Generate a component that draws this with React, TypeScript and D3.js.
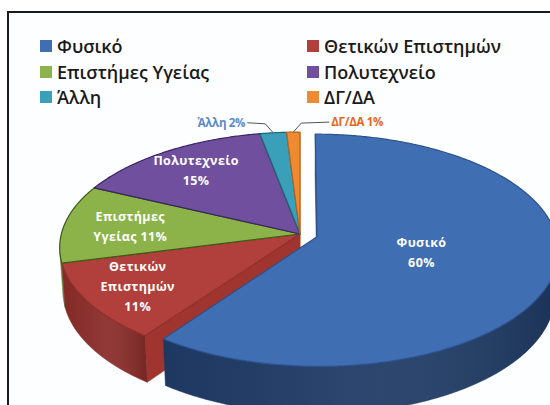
import React from "react";
import * as d3 from "d3";

// ---------- data ----------
const categories = ["Φυσικό", "Θετικών Επιστημών", "Επιστήμες Υγείας", "Πολυτεχνείο", "Άλλη", "ΔΓ/ΔΑ"];
const values = [60, 11, 11, 15, 2, 1];
const sliceLabels = [
  ["Φυσικό", "60%"],
  ["Θετικών", "Επιστημών", "11%"],
  ["Επιστήμες", "Υγείας 11%"],
  ["Πολυτεχνείο", "15%"],
  ["Άλλη 2%"],
  ["ΔΓ/ΔΑ 1%"],
];

// ---------- style ----------
const topColors = ["#3f6eb2", "#b13f3b", "#8cb34a", "#6f4f9e", "#3a9fb9", "#ee8a32"];
const wallColors = ["#1f3b66", "#8a2c29", "#5e7f2b", "#4a3470", "#1f6f84", "#b7621b"];
const radialColors = ["#2b4f86", "#a0342f", "#6f9334", "#553c80", "#24798f", "#c96f22"];
const edgeColors = ["#2c5290", "#8f2f2b", "#3d5a17", "#3b2760", "#1e6477", "#b7621b"];
const outsideColors = ["", "", "", "", "#5b89c9", "#e8661a"];
const explode = [0.075, 0, 0, 0, 0, 0];
const labelRadius = [0.45, 0.78, 0.72, 0.76, 1, 1];

const W = 550, H = 405;
const CX = 300, CY = 234, DIST = 7.5, TILT = (28.5 * Math.PI) / 180, FOC = 1790, THICK = 0.21;
const cosA = Math.cos(TILT), sinA = Math.sin(TILT);
const CAM = [0, -DIST * cosA, DIST * sinA];

function project(u: number, v: number, y: number): [number, number] {
  const z = DIST + v * cosA - y * sinA;
  const yc = v * sinA + y * cosA;
  return [CX + (FOC * u) / z, CY - (FOC * yc) / z];
}
function depth(u: number, v: number, y: number) {
  return DIST + v * cosA - y * sinA;
}

const pie = d3.pie<number>().sort(null).value((d) => d);
const arcs = pie(values);
const line = d3.line().curve(d3.curveLinearClosed);

type Face = { d: string; fill: string; z: number; key: string; stroke?: string };

function buildFaces() {
  const radial: Face[] = [];
  const walls: Face[] = [];
  const tops: Face[] = [];
  arcs.forEach((a, i) => {
    const mid = (a.startAngle + a.endAngle) / 2;
    const ou = explode[i] * Math.sin(mid);
    const ov = explode[i] * Math.cos(mid);
    const pt = (th: number, r: number, y: number) =>
      project(ou + r * Math.sin(th), ov + r * Math.cos(th), y);
    const n = Math.max(2, Math.ceil(((a.endAngle - a.startAngle) * 180) / Math.PI / 0.5));
    const angles = d3.range(n + 1).map((k) => a.startAngle + ((a.endAngle - a.startAngle) * k) / n);

    const topPts: [number, number][] = [project(ou, ov, 0), ...angles.map((th) => pt(th, 1, 0))];
    tops.push({ d: line(topPts)!, fill: topColors[i], z: 0, key: "t" + i, stroke: edgeColors[i] });

    const vis = angles.map((th) => {
      const pu = ou + Math.sin(th), pv = ov + Math.cos(th);
      const dot = Math.sin(th) * (CAM[0] - pu) + Math.cos(th) * (CAM[1] - pv);
      return dot > 0;
    });
    let run: number[] = [];
    const flush = () => {
      if (run.length > 1) {
        const up = run.map((th) => pt(th, 1, 0));
        const dn = run.map((th) => pt(th, 1, -THICK)).reverse();
        const zm = d3.mean(run, (th) => depth(ou + Math.sin(th), ov + Math.cos(th), 0))!;
        walls.push({ d: line([...up, ...dn])!, fill: wallColors[i], z: zm, key: "w" + i + "_" + walls.length });
      }
      run = [];
    };
    angles.forEach((th, k) => {
      if (vis[k]) run.push(th);
      else flush();
    });
    flush();

    const prev = (i - 1 + arcs.length) % arcs.length;
    const next = (i + 1) % arcs.length;
    const sides: [number, number[]][] = [];
    if (explode[i] > 0 || explode[prev] > 0) sides.push([a.startAngle, [-Math.cos(a.startAngle), Math.sin(a.startAngle)]]);
    if (explode[i] > 0 || explode[next] > 0) sides.push([a.endAngle, [Math.cos(a.endAngle), -Math.sin(a.endAngle)]]);
    sides.forEach(([th, nrm], s) => {
      const dot = nrm[0] * (CAM[0] - ou) + nrm[1] * (CAM[1] - ov);
      if (dot <= 0) return;
      const q: [number, number][] = [project(ou, ov, 0), pt(th, 1, 0), pt(th, 1, -THICK), project(ou, ov, -THICK)];
      const zm = depth(ou + 0.5 * Math.sin(th), ov + 0.5 * Math.cos(th), 0);
      radial.push({ d: line(q)!, fill: radialColors[i], z: zm, key: "r" + i + "_" + s });
    });
  });
  radial.sort((p, q) => q.z - p.z);
  walls.sort((p, q) => q.z - p.z);
  return { radial, walls, tops };
}

function labelItems() {
  return arcs.map((a, i) => {
    const mid = (a.startAngle + a.endAngle) / 2;
    const ou = explode[i] * Math.sin(mid);
    const ov = explode[i] * Math.cos(mid);
    const r = labelRadius[i];
    const p = project(ou + r * Math.sin(mid), ov + r * Math.cos(mid), 0);
    return { i, p, mid };
  });
}

const legendX = [40, 307];
const legendRowY = [46, 72, 97];

export default function App() {
  const { radial, walls, tops } = buildFaces();
  const labs = labelItems();
  const font = "'Open Sans', 'DejaVu Sans', sans-serif";
  return (
    <svg
      width={W}
      height={H}
      viewBox={`0 0 ${W} ${H}`}
      style={{ position: "absolute", left: 0, top: 0, background: "#ffffff" }}
    >
      <defs>
        <linearGradient id="wallShade" x1="0" x2="1" y1="0" y2="0">
          <stop offset="0" stopColor="#000" stopOpacity={0.05} />
          <stop offset="0.5" stopColor="#fff" stopOpacity={0.06} />
          <stop offset="1" stopColor="#000" stopOpacity={0.15} />
        </linearGradient>
      </defs>
      <rect x={0} y={0} width={W} height={H} fill="#ffffff" />
      <rect x={8} y={12} width={W} height={H} fill="#fdfeff" stroke="#1c1c1c" strokeWidth={2} />

      {categories.map((c, i) => {
        const x = legendX[i % 2];
        const y = legendRowY[Math.floor(i / 2)];
        return (
          <g key={"lg" + i}>
            <rect x={x} y={y - 6} width={12} height={12} fill={topColors[i]} />
            <text x={x + 17} y={y + 6.5} fontFamily={font} fontWeight={600} fontSize={18} fill="#1a1a1a">
              {c}
            </text>
          </g>
        );
      })}

      {radial.map((f) => <path key={f.key} d={f.d} fill={f.fill} stroke={f.fill} strokeWidth={0.5} />)}
      {walls.map((f) => (
        <g key={f.key}>
          <path d={f.d} fill={f.fill} stroke={f.fill} strokeWidth={0.5} />
          <path d={f.d} fill="url(#wallShade)" />
        </g>
      ))}
      {tops.map((f) => (
        <path key={f.key} d={f.d} fill={f.fill} stroke={f.stroke} strokeWidth={1.2} strokeLinejoin="round" />
      ))}

      {labs.map(({ i, p }) => {
        const lines = sliceLabels[i];
        if (labelRadius[i] >= 1) {
          const left = i === 4;
          const ex = p[0] + (left ? -8 : 8);
          const ey = p[1] - 9;
          const tx = ex + (left ? -18 : 28);
          return (
            <g key={"lb" + i}>
              <polyline
                points={`${p[0]},${p[1]} ${ex},${ey} ${tx},${ey - 1}`}
                fill="none"
                stroke="#555"
                strokeWidth={1}
              />
              <text
                x={tx + (left ? -2 : 2)}
                y={ey + 3}
                textAnchor={left ? "end" : "start"}
                fontFamily={font}
                fontWeight={700}
                fontSize={11.5}
                letterSpacing={-0.3}
                fill={outsideColors[i]}
              >
                {lines[0]}
              </text>
            </g>
          );
        }
        const lh = 20;
        const y0 = p[1] - ((lines.length - 1) * lh) / 2;
        return (
          <text
            key={"lb" + i}
            textAnchor="middle"
            fontFamily={font}
            fontWeight={700}
            fontSize={12.5}
            letterSpacing={0.4}
            fill="#ffffff"
          >
            {lines.map((t, k) => (
              <tspan key={k} x={p[0]} y={y0 + k * lh + 4.5}>
                {t}
              </tspan>
            ))}
          </text>
        );
      })}
    </svg>
  );
}
